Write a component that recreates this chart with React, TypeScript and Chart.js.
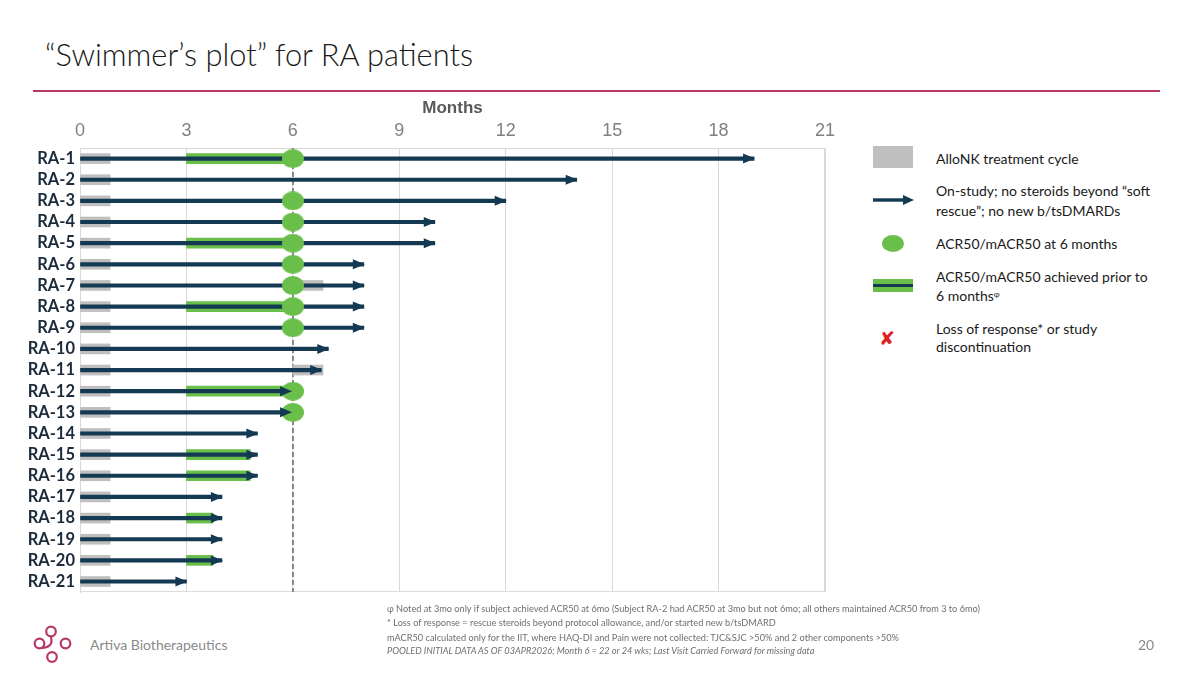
import React, { useEffect, useRef } from "react";
import { Chart, registerables } from "chart.js";

Chart.register(...registerables);

// Patients, top to bottom
const patients = [
  "RA-1", "RA-2", "RA-3", "RA-4", "RA-5", "RA-6", "RA-7", "RA-8", "RA-9", "RA-10",
  "RA-11", "RA-12", "RA-13", "RA-14", "RA-15", "RA-16", "RA-17", "RA-18", "RA-19", "RA-20", "RA-21",
];

// Months on study at last visit (arrow tip)
const lastVisit = [19, 14, 12, 10, 10, 8, 8, 8, 8, 7, 6.8, 5.95, 5.95, 5, 5, 5, 4, 4, 4, 4, 3];

// AlloNK treatment cycles (months): first cycle for every patient, second cycle where given
const firstCycleStart = [0, 0, 0, 0, 0, 0, 0, 0, 0, 0, 0, 0, 0, 0, 0, 0, 0, 0, 0, 0, 0];
const firstCycleEnd = [0.85, 0.85, 0.85, 0.85, 0.85, 0.85, 0.85, 0.85, 0.85, 0.85, 0.85, 0.85, 0.85, 0.85, 0.85, 0.85, 0.85, 0.85, 0.85, 0.85, 0.85];
const secondCycleStart = [null, null, null, null, null, null, 6, null, null, null, 6, null, null, null, null, null, null, null, null, null, null];
const secondCycleEnd = [null, null, null, null, null, null, 6.85, null, null, null, 6.85, null, null, null, null, null, null, null, null, null, null];

// ACR50/mACR50 achieved prior to 6 months (months)
const earlyResponseStart = [3, null, null, null, 3, null, null, 3, null, null, null, 3, null, null, 3, 3, null, 3, null, 3, null];
const earlyResponseEnd = [5.85, null, null, null, 6, null, null, 6, null, null, null, 5.85, null, null, 4.8, 4.8, null, 3.75, null, 3.75, null];

// ACR50/mACR50 at 6 months
const acr50At6 = [6, null, 6, 6, 6, 6, 6, 6, 6, null, null, 6, 6, null, null, null, null, null, null, null, null];

// Axis ticks (months)
const monthTicks = [0, 3, 6, 9, 12, 15, 18, 21];
const responseLandmark = 6;

const NAVY = "#133a52";
const GREEN = "#6abf4b";
const GREY = "#bfbfbf";
const GRID = "#d9d9d9";
const BRAND = "#b8386a";

const pair = (a: (number | null)[], b: (number | null)[]) =>
  a.map((s, i) => (s == null || b[i] == null ? null : [s, b[i] as number]));

const framePlugin = {
  id: "frame",
  beforeDatasetsDraw(chart: any) {
    const { ctx, chartArea: a, scales } = chart;
    ctx.save();
    ctx.strokeStyle = GRID;
    ctx.lineWidth = 1;
    ctx.strokeRect(a.left + 0.5, a.top + 0.5, a.right - a.left - 1, a.bottom - a.top - 1);
    const x = Math.round(scales.x.getPixelForValue(responseLandmark));
    ctx.strokeStyle = "#8a8a8a";
    ctx.lineWidth = 2;
    ctx.setLineDash([5, 3]);
    ctx.beginPath();
    ctx.moveTo(x, a.top);
    ctx.lineTo(x, a.bottom);
    ctx.stroke();
    ctx.restore();
  },
};

const arrowPlugin = {
  id: "arrowheads",
  afterDatasetsDraw(chart: any) {
    const { ctx } = chart;
    const idx = chart.data.datasets.findIndex((d: any) => d.id === "onStudy");
    const meta = chart.getDatasetMeta(idx);
    ctx.save();
    ctx.fillStyle = NAVY;
    meta.data.forEach((el: any) => {
      const { x, y } = el.getProps(["x", "y"], true);
      ctx.beginPath();
      ctx.moveTo(x + 1, y);
      ctx.lineTo(x - 11, y - 5);
      ctx.lineTo(x - 11, y + 5);
      ctx.closePath();
      ctx.fill();
    });
    ctx.restore();
  },
};

function ChartCanvas() {
  const ref = useRef<HTMLCanvasElement>(null);
  useEffect(() => {
    const dot = document.createElement("canvas");
    dot.width = 22;
    dot.height = 19;
    const dctx = dot.getContext("2d")!;
    dctx.fillStyle = GREEN;
    dctx.beginPath();
    dctx.ellipse(11, 9.5, 11, 9.5, 0, 0, Math.PI * 2);
    dctx.fill();

    const dots = patients
      .map((p, i) => (acr50At6[i] == null ? null : { x: acr50At6[i] as number, y: p }))
      .filter((d) => d != null);

    const chart = new Chart(ref.current!, {
      type: "bar",
      data: {
        labels: patients,
        datasets: [
          {
            type: "scatter",
            label: "ACR50/mACR50 at 6 months",
            data: dots as any,
            pointStyle: dot as any,
            pointRadius: 11,
            order: 0,
          } as any,
          {
            id: "onStudy",
            label: "On-study",
            data: patients.map((_, i) => [0, lastVisit[i]]),
            backgroundColor: NAVY,
            barThickness: 3.5,
            order: 1,
          } as any,
          {
            label: "ACR50/mACR50 achieved prior to 6 months",
            data: pair(earlyResponseStart, earlyResponseEnd) as any,
            backgroundColor: GREEN,
            barThickness: 10,
            order: 2,
          },
          {
            label: "AlloNK treatment cycle",
            data: pair(firstCycleStart, firstCycleEnd) as any,
            backgroundColor: GREY,
            barThickness: 10,
            order: 3,
          },
          {
            label: "AlloNK treatment cycle 2",
            data: pair(secondCycleStart, secondCycleEnd) as any,
            backgroundColor: GREY,
            barThickness: 10,
            order: 3,
          },
        ],
      },
      options: {
        animation: false,
        responsive: false,
        indexAxis: "y",
        layout: { padding: { left: 0, right: 25, top: 0, bottom: 0 } },
        datasets: { bar: { grouped: false, borderWidth: 0 } } as any,
        plugins: { legend: { display: false }, tooltip: { enabled: false } },
        scales: {
          x: {
            type: "linear",
            position: "top",
            min: monthTicks[0],
            max: monthTicks[monthTicks.length - 1],
            afterBuildTicks: (s: any) => {
              s.ticks = monthTicks.map((v) => ({ value: v }));
            },
            ticks: {
              color: "#808080",
              font: { family: "'Liberation Sans', Arial, sans-serif", size: 18 },
              padding: 6,
            },
            grid: { color: GRID, drawTicks: false },
            border: { color: GRID },
            title: {
              display: true,
              text: "Months",
              color: "#595959",
              font: { family: "'Liberation Sans', Arial, sans-serif", size: 17, weight: "bold" },
              padding: { top: 8, bottom: 0 },
            },
            afterFit: (s: any) => {
              s.height = 58;
            },
          },
          y: {
            type: "category",
            offset: true,
            grid: { display: false, drawTicks: false },
            border: { color: GRID },
            ticks: {
              autoSkip: false,
              color: "#1b2b3c",
              font: { family: "Lato, 'Open Sans', sans-serif", size: 16.5, weight: "bold" },
              padding: 5,
            },
            afterFit: (s: any) => {
              s.width = 80;
            },
          },
        },
      } as any,
      plugins: [framePlugin, arrowPlugin],
    });
    return () => chart.destroy();
  }, []);
  return (
    <canvas
      ref={ref}
      width={850}
      height={517}
      style={{ position: "absolute", left: 0, top: 90, width: 850, height: 517, display: "block" }}
    />
  );
}

const textFont = "Lato, 'Open Sans', sans-serif";

function LegendText({ top, lines, lh = 19 }: { top: number; lines: React.ReactNode[]; lh?: number }) {
  return (
    <div
      style={{
        position: "absolute",
        left: 936,
        top,
        fontFamily: textFont,
        fontSize: 14,
        lineHeight: `${lh}px`,
        color: "#1a1a1a",
        whiteSpace: "nowrap",
      }}
    >
      {lines.map((l, i) => (
        <div key={i}>{l}</div>
      ))}
    </div>
  );
}

function Legend() {
  return (
    <>
      <div style={{ position: "absolute", left: 873, top: 146, width: 40, height: 22, background: GREY }} />
      <LegendText top={148.5} lines={["AlloNK treatment cycle"]} />

      <svg style={{ position: "absolute", left: 872, top: 193 }} width={44} height={14}>
        <rect x={1} y={5.3} width={32} height={3.4} fill={NAVY} />
        <polygon points="42,7 31,2 31,12" fill={NAVY} />
      </svg>
      <LegendText top={180.5} lines={["On-study; no steroids beyond \u201csoft", "rescue\u201d; no new b/tsDMARDs"]} lh={20} />

      <div style={{ position: "absolute", left: 882, top: 235, width: 22, height: 17, borderRadius: "50%", background: GREEN }} />
      <LegendText top={233.5} lines={["ACR50/mACR50 at 6 months"]} />

      <div style={{ position: "absolute", left: 873, top: 279, width: 40, height: 13, background: GREEN }} />
      <div style={{ position: "absolute", left: 873, top: 284, width: 40, height: 3, background: NAVY }} />
      <LegendText
        top={267}
        lines={[
          "ACR50/mACR50 achieved prior to",
          <span>
            6 months<sup style={{ fontSize: 8, verticalAlign: "4px", lineHeight: 0 }}>φ</sup>
          </span>,
        ]}
      />

      <div
        style={{
          position: "absolute",
          left: 879,
          top: 327,
          fontFamily: "'DejaVu Sans', sans-serif",
          fontSize: 19,
          lineHeight: "22px",
          color: "#e02020",
          fontWeight: "bold",
        }}
      >
        {"\u2718"}
      </div>
      <LegendText top={320} lines={["Loss of response* or study", "discontinuation"]} lh={18} />
    </>
  );
}

function Footnotes() {
  const base: React.CSSProperties = {
    position: "absolute",
    left: 387,
    fontFamily: textFont,
    fontSize: 9.2,
    lineHeight: "12px",
    color: "#6f6f6f",
    whiteSpace: "nowrap",
  };
  return (
    <>
      <div style={{ ...base, top: 603 }}>
        φ Noted at 3mo only if subject achieved ACR50 at 6mo (Subject RA-2 had ACR50 at 3mo but not 6mo; all others maintained ACR50 from 3 to 6mo)
      </div>
      <div style={{ ...base, top: 617 }}>
        * Loss of response = rescue steroids beyond protocol allowance, and/or started new b/tsDMARD
      </div>
      <div style={{ ...base, top: 632 }}>
        mACR50 calculated only for the IIT, where HAQ-DI and Pain were not collected: TJC&amp;SJC &gt;50% and 2 other components &gt;50%
      </div>
      <div style={{ ...base, top: 645, fontStyle: "italic" }}>
        POOLED INITIAL DATA AS OF 03APR2026; Month 6 = 22 or 24 wks; Last Visit Carried Forward for missing data
      </div>
    </>
  );
}

function Logo() {
  return (
    <svg style={{ position: "absolute", left: 28, top: 620 }} width={48} height={48} viewBox="28 620 48 48">
      <g fill="none" stroke={BRAND} strokeWidth={2.2}>
        <circle cx={51} cy={631.5} r={4.8} />
        <path d="M51 636.3 C51 640, 53 642, 50 645 C47 648, 44 648, 42 648" />
        <circle cx={39.5} cy={643.5} r={4.8} />
        <circle cx={65.5} cy={643.5} r={4.8} />
        <circle cx={52} cy={657} r={4.8} />
      </g>
    </svg>
  );
}

export default function App() {
  return (
    <div
      style={{
        position: "absolute",
        left: 0,
        top: 0,
        width: 1200,
        height: 675,
        overflow: "hidden",
        background: "#ffffff",
      }}
    >
      <div
        style={{
          position: "absolute",
          left: 45,
          top: 36,
          fontFamily: textFont,
          fontWeight: 300,
          fontSize: 30.8,
          lineHeight: "38px",
          color: "#1a1a1a",
          whiteSpace: "nowrap",
        }}
      >
        {"\u201cSwimmer\u2019s plot\u201d for RA patients"}
      </div>
      <div style={{ position: "absolute", left: 33, top: 90, width: 1127, height: 2, background: BRAND }} />

      <ChartCanvas />
      <Legend />
      <Footnotes />
      <Logo />

      <div
        style={{
          position: "absolute",
          left: 90,
          top: 636,
          fontFamily: textFont,
          fontSize: 14,
          lineHeight: "18px",
          color: "#8a8a8a",
        }}
      >
        Artiva Biotherapeutics
      </div>
      <div
        style={{
          position: "absolute",
          left: 1138,
          top: 636,
          fontFamily: textFont,
          fontSize: 14,
          lineHeight: "18px",
          color: "#8a8a8a",
        }}
      >
        20
      </div>
    </div>
  );
}
